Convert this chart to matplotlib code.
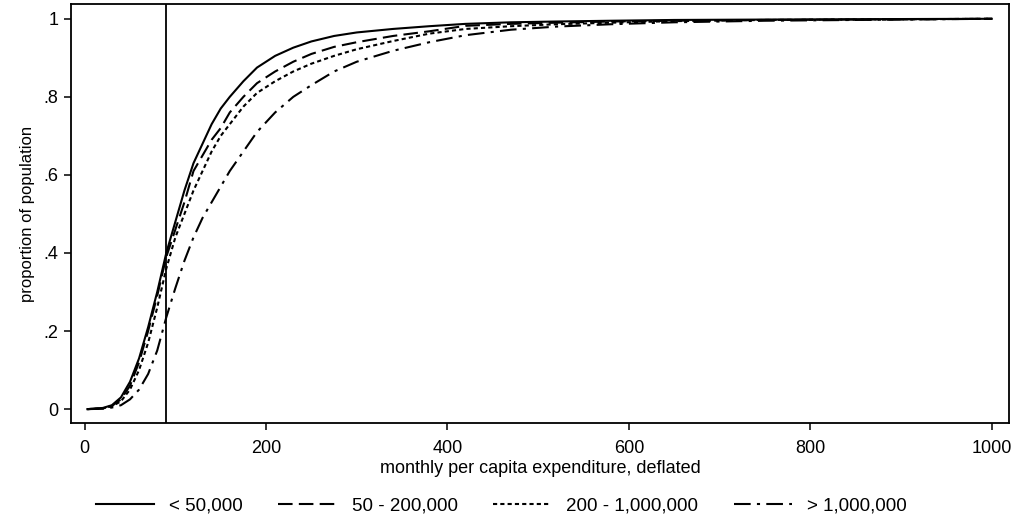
import matplotlib
matplotlib.use("Agg")
import matplotlib.pyplot as plt

# expenditure grid (monthly per capita, deflated)
expend = [3, 20, 30, 40, 50, 60, 70, 80, 90, 100, 110, 120, 130, 140, 150, 160, 175,
          190, 210, 230, 250, 275, 300, 340, 380, 420, 470, 520, 580, 650, 750, 850, 1000]

# cumulative share of population by city size
cdf_lt50k = [0, 0.003, 0.01, 0.03, 0.07, 0.13, 0.21, 0.30, 0.40, 0.48, 0.56, 0.63, 0.68,
             0.73, 0.77, 0.80, 0.84, 0.875, 0.905, 0.926, 0.942, 0.956, 0.965, 0.974,
             0.981, 0.987, 0.991, 0.993, 0.995, 0.997, 0.998, 0.999, 1.0]
cdf_50_200k = [0, 0.002, 0.008, 0.025, 0.06, 0.12, 0.20, 0.29, 0.39, 0.46, 0.53, 0.61, 0.65,
               0.69, 0.72, 0.76, 0.80, 0.835, 0.865, 0.89, 0.91, 0.928, 0.94, 0.956,
               0.968, 0.982, 0.987, 0.99, 0.993, 0.995, 0.997, 0.998, 1.0]
cdf_200k_1m = [0, 0.002, 0.007, 0.02, 0.05, 0.10, 0.17, 0.26, 0.36, 0.44, 0.50, 0.56, 0.61,
               0.66, 0.70, 0.73, 0.775, 0.81, 0.84, 0.865, 0.885, 0.905, 0.922, 0.943,
               0.962, 0.974, 0.981, 0.986, 0.99, 0.994, 0.997, 0.998, 1.0]
cdf_gt1m = [0, 0.001, 0.004, 0.01, 0.025, 0.05, 0.09, 0.15, 0.235, 0.31, 0.38, 0.44, 0.49,
            0.53, 0.57, 0.61, 0.66, 0.71, 0.76, 0.80, 0.83, 0.865, 0.89, 0.918,
            0.94, 0.958, 0.972, 0.98, 0.986, 0.991, 0.995, 0.997, 1.0]

labels = ["< 50,000", "50 - 200,000", "200 - 1,000,000", "> 1,000,000"]
poverty_line = 90

plt.rcParams['font.family'] = ['Liberation Sans', 'DejaVu Sans']

fig = plt.figure(figsize=(10.19, 5.27), dpi=100)
ax = fig.add_axes([0.0697, 0.197, 0.9205, 0.7955])

styles = [
    dict(linestyle='-'),
    dict(linestyle=(0, (7, 3))),
    dict(linestyle=(0, (2, 1.5))),
    dict(linestyle=(0, (8, 3, 1.5, 3))),
]
series = [cdf_lt50k, cdf_50_200k, cdf_200k_1m, cdf_gt1m]
for ys, lab, st in zip(series, labels, styles):
    ax.plot(expend, ys, color='black', linewidth=1.5, label=lab, **st)

ax.axvline(poverty_line, color='black', linewidth=1.3)

ax.set_xlim(-15, 1019)
ax.set_ylim(-0.036, 1.038)
ax.set_xticks([0, 200, 400, 600, 800, 1000])
ax.set_yticks([0, 0.2, 0.4, 0.6, 0.8, 1])
ax.set_yticklabels(['0', '.2', '.4', '.6', '.8', '1'])
ax.tick_params(direction='out', length=5, width=1.1, labelsize=13, pad=4)
ax.tick_params(axis='x', pad=7)
for sp in ax.spines.values():
    sp.set_linewidth(1.3)

ax.set_xlabel('monthly per capita expenditure, deflated', fontsize=13, labelpad=2)
ax.set_ylabel('proportion of population', fontsize=12, labelpad=6)

handles, labs = ax.get_legend_handles_labels()
fig.legend(handles, labs, loc='lower center', ncol=4, frameon=False,
           fontsize=13.5, handlelength=3.1, handletextpad=0.8, columnspacing=1.9,
           bbox_to_anchor=(0.492, -0.008))

fig.savefig('out.png', dpi=100)
